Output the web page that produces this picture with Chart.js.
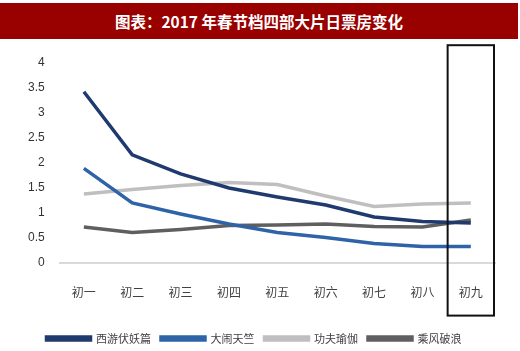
<!DOCTYPE html>
<html>
<head>
<meta charset="utf-8">
<script src="https://cdn.jsdelivr.net/npm/chart.js@4"></script>
<style>
  body { margin: 0; background: #fff; width: 520px; height: 351px; overflow: hidden; position: relative; }
  #titulo {
    position: absolute; left: 0; top: 3px; width: 518px; height: 36px;
    background: #990000; color: #fff; text-align: center;
    font: bold 15.5px "Noto Sans CJK SC", sans-serif; line-height: 36px;
  }
  #caja { position: absolute; left: 0; top: 40px; width: 520px; height: 311px; }
</style>
</head>
<body>
<div id="titulo">图表：2017 年春节档四部大片日票房变化</div>
<div id="caja"><canvas id="myChart"></canvas></div>
<script>
const dias = ["初一", "初二", "初三", "初四", "初五", "初六", "初七", "初八", "初九"];
const xiyou = [3.41, 2.15, 1.77, 1.49, 1.31, 1.15, 0.91, 0.82, 0.79];
const danao = [1.88, 1.19, 0.97, 0.77, 0.60, 0.50, 0.38, 0.32, 0.32];
const gongfu = [1.37, 1.46, 1.54, 1.60, 1.56, 1.33, 1.12, 1.17, 1.19];
const chengfeng = [0.71, 0.60, 0.66, 0.74, 0.75, 0.77, 0.72, 0.71, 0.85];
const nombres = ["西游伏妖篇", "大闹天竺", "功夫瑜伽", "乘风破浪"];
const colores = ["#1f3a6e", "#2f63a8", "#bfbfbf", "#5f5f5f"];

// caja negra sobre 初九
const cajaPlugin = {
  id: "cajaPlugin",
  afterDraw(chart) {
    const xs = chart.scales.x;
    const area = chart.chartArea;
    const cx = xs.getPixelForValue(8);
    const mitad = (cx - xs.getPixelForValue(7)) / 2 - 1;
    const ctx = chart.ctx;
    ctx.save();
    ctx.strokeStyle = "#111";
    ctx.lineWidth = 2;
    ctx.strokeRect(cx - mitad, area.top - 17, mitad * 2, area.bottom - area.top + 70);
    ctx.restore();
  }
};

const series = [xiyou, danao, gongfu, chengfeng];
const data = {
  labels: dias,
  datasets: series.map((s, i) => ({
    label: nombres[i],
    data: s,
    borderColor: colores[i],
    backgroundColor: colores[i],
    borderWidth: 3.5,
    pointRadius: 0,
    tension: 0,
    fill: false
  }))
};

new Chart(document.getElementById("myChart"), {
  type: "line",
  data,
  options: {
    responsive: true,
    maintainAspectRatio: false,
    animation: false,
    layout: { padding: { top: 16, right: 25, left: 13, bottom: -3 } },
    plugins: {
      legend: {
        position: "bottom",
        labels: {
          boxWidth: 44,
          boxHeight: 3,
          padding: 10,
          color: "#404040",
          font: { family: "Noto Sans CJK SC", size: 11 }
        }
      },
      tooltip: { enabled: false }
    },
    scales: {
      x: {
        offset: true,
        grid: { display: false, drawTicks: false },
        border: { color: "#d9d9d9", width: 2 },
        ticks: {
          padding: 23,
          color: "#404040",
          font: { family: "Noto Sans CJK SC", size: 12 }
        }
      },
      y: {
        min: 0,
        max: 4,
        grid: { display: false, drawTicks: false },
        border: { display: false },
        ticks: {
          stepSize: 0.5,
          padding: 15,
          color: "#333",
          font: { family: "Liberation Sans", size: 12 },
          callback: v => String(v)
        }
      }
    }
  },
  plugins: [cajaPlugin]
});
</script>
</body>
</html>
